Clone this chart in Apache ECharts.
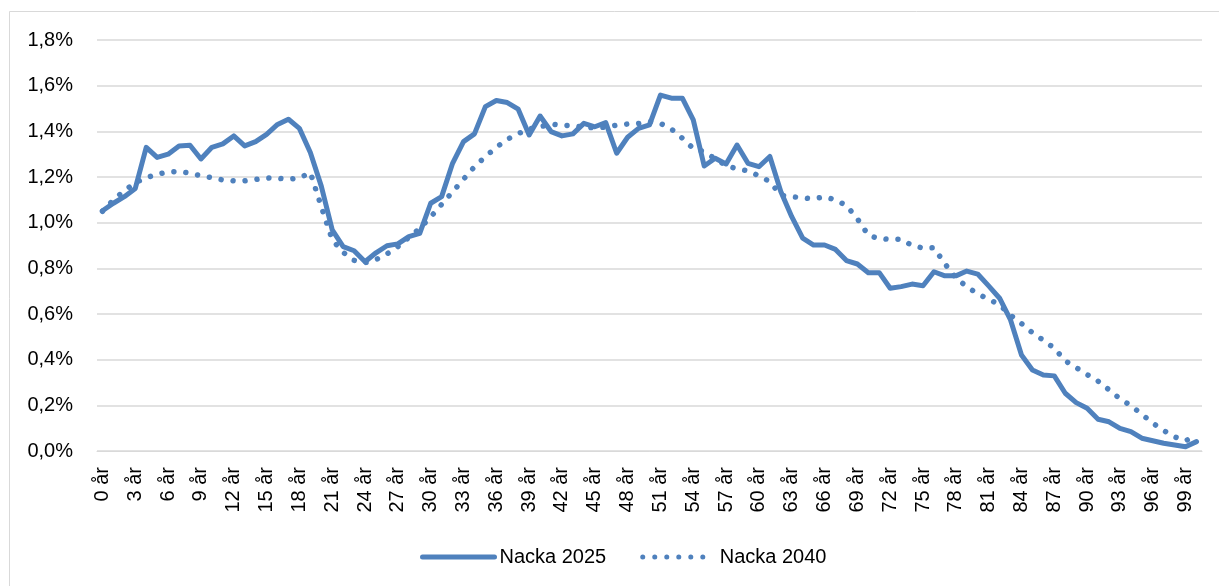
<!DOCTYPE html>
<html>
<head>
<meta charset="utf-8">
<script src="https://cdn.jsdelivr.net/npm/echarts@6/dist/echarts.min.js"></script>
<style>
  html, body { margin: 0; padding: 0; background: #fff; }
  #main { width: 1219px; height: 586px; }
</style>
</head>
<body>
<div id="main"></div>
<script>
// age categories 0 år .. 100 år
const ages = []
for (let i = 0; i <= 100; i++) ages.push(i + ' år')

// share of population per age, in percent
const nacka2025 = [
  1.052, 1.085, 1.114, 1.150, 1.330, 1.286, 1.300, 1.336, 1.339, 1.279,
  1.330, 1.345, 1.380, 1.336, 1.355, 1.387, 1.430, 1.453, 1.413, 1.307,
  1.160, 0.968, 0.895, 0.877, 0.829, 0.868, 0.899, 0.907, 0.939, 0.953,
  1.085, 1.114, 1.260, 1.355, 1.389, 1.508, 1.535, 1.526, 1.497, 1.384,
  1.467, 1.399, 1.380, 1.389, 1.435, 1.420, 1.438, 1.304, 1.374, 1.413,
  1.428, 1.559, 1.545, 1.545, 1.450, 1.248, 1.282, 1.257, 1.340, 1.260,
  1.245, 1.290, 1.136, 1.026, 0.932, 0.902, 0.902, 0.883, 0.834, 0.819,
  0.781, 0.781, 0.713, 0.720, 0.731, 0.724, 0.785, 0.767, 0.767, 0.788,
  0.775, 0.723, 0.669, 0.574, 0.420, 0.355, 0.333, 0.329, 0.253, 0.212,
  0.187, 0.139, 0.128, 0.099, 0.085, 0.056, 0.045, 0.034, 0.026, 0.019,
  0.041
]

const nacka2040 = [
  1.050, 1.100, 1.140, 1.175, 1.197, 1.212, 1.222, 1.224, 1.217, 1.205,
  1.197, 1.187, 1.183, 1.183, 1.189, 1.196, 1.194, 1.191, 1.195, 1.220,
  1.070, 0.925, 0.870, 0.835, 0.825, 0.838, 0.863, 0.895, 0.935, 0.975,
  1.025, 1.080, 1.135, 1.190, 1.245, 1.289, 1.330, 1.365, 1.390, 1.410,
  1.420, 1.431, 1.427, 1.425, 1.418, 1.416, 1.418, 1.427, 1.432, 1.434,
  1.442, 1.435, 1.410, 1.370, 1.325, 1.310, 1.280, 1.250, 1.236, 1.227,
  1.205, 1.180, 1.120, 1.114, 1.108, 1.105, 1.113, 1.100, 1.075, 1.017,
  0.945, 0.930, 0.927, 0.927, 0.900, 0.889, 0.890, 0.820, 0.758, 0.720,
  0.688, 0.665, 0.640, 0.595, 0.558, 0.518, 0.485, 0.450, 0.395, 0.365,
  0.335, 0.306, 0.268, 0.229, 0.199, 0.161, 0.122, 0.090, 0.062, 0.045,
  0.068
]

const blue = '#4f81bd'
const font = 'Liberation Sans, Arial, sans-serif'

const chart = echarts.init(document.getElementById('main'))
chart.setOption({
  animation: false,
  backgroundColor: '#fff',
  textStyle: { fontFamily: font },
  graphic: [
    { type: 'line', shape: { x1: 9.5, y1: 11.5, x2: 1219, y2: 11.5 }, style: { stroke: '#d9d9d9', lineWidth: 1 } },
    { type: 'line', shape: { x1: 9.5, y1: 11.5, x2: 9.5, y2: 586 }, style: { stroke: '#d9d9d9', lineWidth: 1 } }
  ],
  grid: { left: 97, right: 17, top: 40, bottom: 135 },
  legend: {
    left: 415,
    top: 542,
    itemWidth: 72,
    itemHeight: 14,
    itemGap: 34,
    itemStyle: { opacity: 0 },
    lineStyle: { width: 5 },
    textStyle: { fontSize: 20, color: '#000', fontFamily: font },
    data: ['Nacka 2025', 'Nacka 2040']
  },
  xAxis: {
    type: 'category',
    data: ages,
    boundaryGap: true,
    axisLine: { lineStyle: { color: '#d9d9d9', width: 1 } },
    axisTick: { show: false },
    axisLabel: {
      rotate: 90,
      interval: 2,
      fontSize: 20,
      color: '#000',
      margin: 16,
      fontFamily: font
    },
    splitLine: { show: false }
  },
  yAxis: {
    type: 'value',
    min: 0,
    max: 1.8,
    interval: 0.2,
    axisLine: { show: false },
    axisTick: { show: false },
    axisLabel: {
      fontSize: 20,
      color: '#000',
      margin: 24,
      fontFamily: font,
      formatter: v => v.toFixed(1).replace('.', ',') + '%'
    },
    splitLine: { lineStyle: { color: '#d9d9d9', width: 1.5 } }
  },
  series: [
    {
      name: 'Nacka 2025',
      type: 'line',
      data: nacka2025,
      symbol: 'none',
      color: blue,
      lineStyle: { color: blue, width: 5, cap: 'round', join: 'round' }
    },
    {
      name: 'Nacka 2040',
      type: 'line',
      data: nacka2040,
      symbol: 'none',
      color: blue,
      lineStyle: { color: blue, width: 5.5, type: [0.01, 12], cap: 'round', join: 'round' }
    }
  ]
})
</script>
</body>
</html>
